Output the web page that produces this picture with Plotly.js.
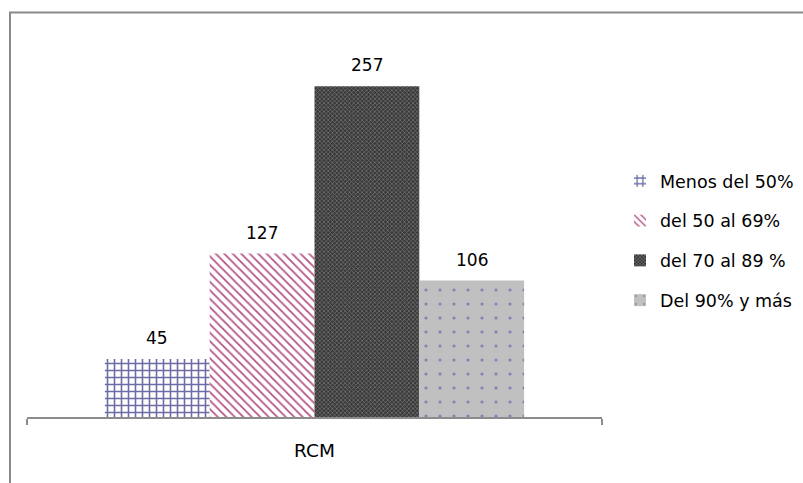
<!DOCTYPE html>
<html>
<head>
<meta charset="utf-8">
<script src="https://cdn.plot.ly/plotly-3.0.1.min.js"></script>
<style>html,body{margin:0;padding:0;background:#fff;}#chart{width:803px;height:483px;}</style>
</head>
<body>
<div id="chart"></div>
<script>
// Categories and series
const categories = ['RCM'];
const seriesNames = ['Menos del 50%', 'del 50 al 69%', 'del 70 al 89 %', 'Del 90% y más'];
const seriesValues = [[45], [127], [257], [106]];

// Fill patterns for each series
const patterns = [
  {shape: '+', fgcolor: '#6b6ba6', bgcolor: '#ffffff', size: 7, solidity: 0.4},
  {shape: '\\', fgcolor: '#b55585', bgcolor: '#ffffff', size: 6, solidity: 0.3},
  {shape: 'x', fgcolor: '#7a7a7a', bgcolor: '#383838', size: 3, solidity: 0.4},
  {shape: '.', fgcolor: '#8282b4', bgcolor: '#c0c0c0', size: 14, solidity: 0.04}
];

const W = 803, H = 483;
const margin = {l: 27, r: 201, t: 31, b: 66, pad: 0};
const bargap = 0.271;
const plotW = W - margin.l - margin.r;
const plotH = H - margin.t - margin.b;
const barW = plotW * (1 - bargap) / seriesNames.length;

const traces = seriesNames.map((name, i) => ({
  type: 'bar',
  name: name,
  x: categories,
  y: seriesValues[i],
  legendgroup: 'g' + i,
  marker: {
    color: patterns[i].bgcolor,
    line: {width: 0},
    pattern: {
      shape: patterns[i].shape,
      fgcolor: patterns[i].fgcolor,
      bgcolor: patterns[i].bgcolor,
      size: patterns[i].size,
      solidity: patterns[i].solidity,
      fillmode: 'replace'
    }
  },
  hoverinfo: 'skip'
}));

// Value labels above each bar
const annotations = [];
seriesNames.forEach((name, i) => {
  seriesValues[i].forEach((v, j) => {
    annotations.push({
      x: categories[j], y: v, xref: 'x', yref: 'y',
      xshift: (i - (seriesNames.length - 1) / 2) * barW,
      yshift: 9,
      yanchor: 'bottom',
      text: String(v),
      showarrow: false,
      font: {family: 'DejaVu Sans', size: 17, color: '#000'}
    });
  });
});

// Pixel -> paper helpers for the outer frame
const px = x => (x - margin.l) / plotW;
const py = y => (H - margin.b - y) / plotH;

const layout = {
  width: W, height: H,
  margin: margin,
  paper_bgcolor: '#ffffff',
  plot_bgcolor: 'rgba(0,0,0,0)',
  barmode: 'group',
  bargap: bargap,
  bargroupgap: 0,
  showlegend: true,
  legend: {
    xref: 'container', yref: 'container',
    x: 620 / W, y: 1 - 163 / H, xanchor: 'left', yanchor: 'top',
    font: {family: 'DejaVu Sans', size: 17.5, color: '#000'},
    tracegroupgap: 14,
    traceorder: 'grouped',
    itemwidth: 30,
    bgcolor: 'rgba(0,0,0,0)'
  },
  xaxis: {
    type: 'category',
    range: [-0.5, 0.5],
    showline: true, linecolor: '#8c8c8c', linewidth: 1.5,
    ticks: 'outside', tickson: 'boundaries', ticklen: 6, tickcolor: '#8c8c8c', tickwidth: 1.5,
    showgrid: false, zeroline: false,
    ticklabelstandoff: 16,
    tickfont: {family: 'DejaVu Sans', size: 18.5, color: '#000'},
    fixedrange: true
  },
  yaxis: {
    range: [0, 300],
    visible: false,
    fixedrange: true
  },
  annotations: annotations,
  shapes: [{
    type: 'rect', xref: 'paper', yref: 'paper',
    x0: px(10), x1: px(830), y0: py(12.5), y1: py(520),
    line: {color: '#8a8a8a', width: 2},
    fillcolor: 'rgba(0,0,0,0)',
    layer: 'below'
  }]
};

Plotly.newPlot('chart', traces, layout, {displayModeBar: false, staticPlot: true});
</script>
</body>
</html>
